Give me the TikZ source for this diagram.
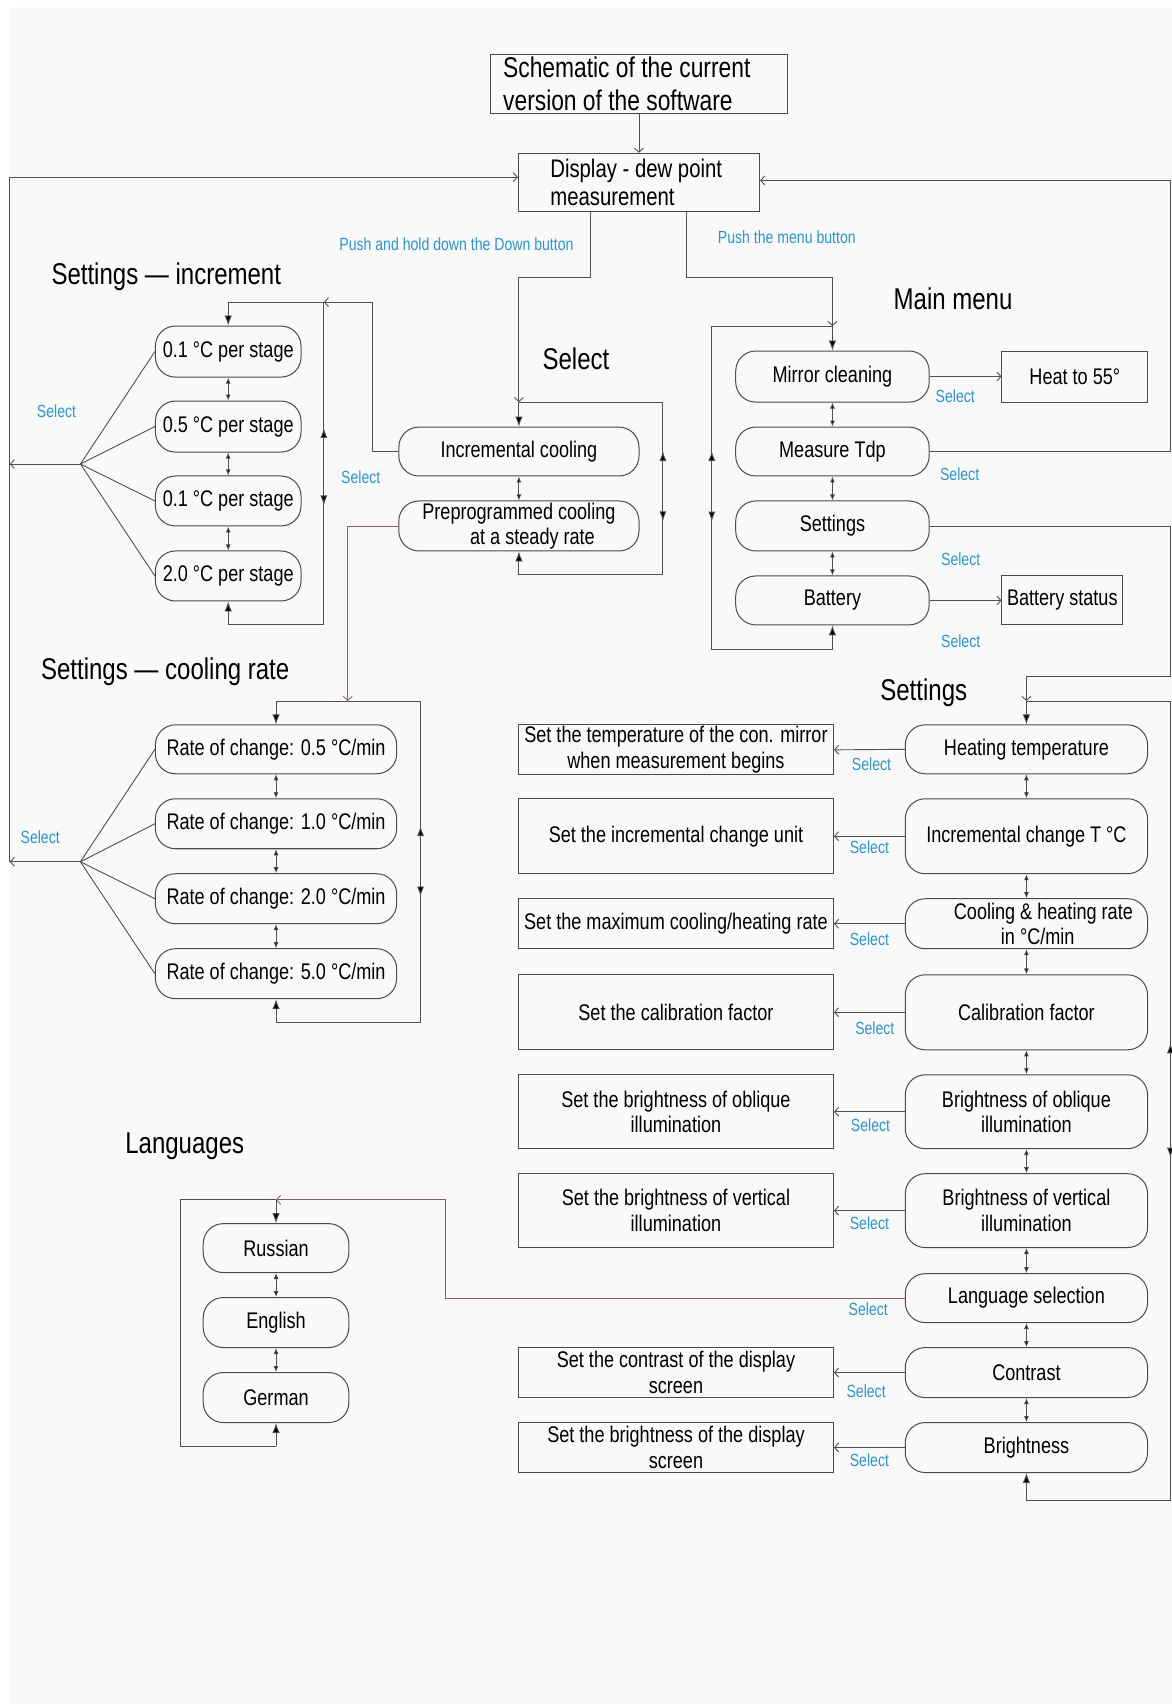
\documentclass[tikz,border=0pt]{standalone}
\usepackage{fontspec}
\setmainfont{Liberation Sans}[FakeStretch=0.8]
\usetikzlibrary{arrows.meta,calc}
\definecolor{bgc}{RGB}{249,249,249}
\definecolor{boxc}{RGB}{75,75,75}
\definecolor{linec}{RGB}{80,80,80}
\definecolor{redl}{RGB}{135,100,100}
\definecolor{bluel}{RGB}{45,150,200}
\newcommand\boxfnt{\fontsize{22.6}{25.5}\selectfont}
\newcommand\headfnt{\fontsize{30}{34}\selectfont}
\newcommand\titlefnt{\fontsize{28.5}{32.6}\selectfont}
\newcommand\dispfnt{\fontsize{25.4}{27.5}\selectfont}
\newcommand\bluefnt{\fontsize{17.6}{20}\selectfont}
\tikzset{
  bx/.style 2 args={minimum width=#1*1.0863pt, minimum height=#2*1.0863pt},
  rbox/.style={draw=boxc, line width=1pt, rounded corners=20pt, align=center, inner sep=0pt, font=\boxfnt},
  sbox/.style={draw=boxc, line width=1pt, align=center, inner sep=0pt, font=\boxfnt},
  conn/.style={draw=linec, line width=0.9pt},
  connr/.style={draw=redl, line width=0.9pt},
  oarr/.style={-{Straight Barb[length=4pt,width=9pt]}},
  farr/.style={-{Latex[length=10pt,width=7.5pt,fill=black]}},
  dbl/.style={{Latex[length=6pt,width=5pt,fill=black]}-{Latex[length=6pt,width=5pt,fill=black]}},
  dblL/.style={{Latex[length=10pt,width=7pt,fill=black]}-{Latex[length=10pt,width=7pt,fill=black]}},
  lbl/.style={font=\bluefnt, text=bluel, inner sep=0pt},
  head/.style={font=\headfnt, inner sep=0pt}
}
\begin{document}
\begin{tikzpicture}[x=1.0863pt,y=-1.0863pt]
\useasboundingbox (0,0) rectangle (1078,1568);
\fill[white] (0,0) rectangle (1078,1568);
\fill[bgc] (8,6) rectangle (1078,1568);

% ---------- top ----------
\node[sbox, font=\titlefnt, align=flush left, text width=250*1.0863pt, inner xsep=12*1.0863pt, minimum height=54*1.0863pt] (title) at (588,77) {Schematic of the current\\version of the software};
\node[sbox, font=\dispfnt, align=flush left, text width=200*1.0863pt, inner xsep=11*1.0863pt, minimum height=54*1.0863pt] (disp) at (588,168) {\hspace*{20pt}Display - dew point\\\hspace*{20pt}measurement};
\draw[conn,oarr] (title.south) -- (disp.north);

% ---------- headings ----------
\node[head] (hInc) at (153,255) {Settings — increment};
\node[head] (hSel) at (530,330) {Select};
\node[head] (hMain) at (877,275) {Main menu};
\node[head] (hCool) at (152,618) {Settings — cooling rate};
\node[head] (hSet) at (850,637) {Settings};
\node[head] (hLang) at (170,1055) {Languages};

% ---------- increment ----------
\node[rbox,bx={134}{47}] (i1) at (210,323.5) {0.1 °C per stage};
\node[rbox,bx={134}{47}] (i2) at (210,392.5) {0.5 °C per stage};
\node[rbox,bx={134}{46}] (i3) at (210,461) {0.1 °C per stage};
\node[rbox,bx={134}{46}] (i4) at (210,530) {2.0 °C per stage};
\draw[conn,dbl] (i1.south) -- (i2.north);
\draw[conn,dbl] (i2.south) -- (i3.north);
\draw[conn,dbl] (i3.south) -- (i4.north);

% ---------- select ----------
\node[rbox,bx={221}{45}] (s1) at (477.5,415.5) {Incremental cooling};
\node[rbox,bx={221}{46}] (s2) at (477.5,484) {Preprogrammed cooling\\\hspace*{1.2em}at a steady rate};
\draw[conn,dbl] (s1.south) -- (s2.north);

% ---------- cooling rate ----------
\node[rbox,bx={222}{45}] (r1) at (254,689.5) {Rate of change: 0.5 °C/min};
\node[rbox,bx={222}{46}] (r2) at (254,758) {Rate of change: 1.0 °C/min};
\node[rbox,bx={222}{46}] (r3) at (254,827) {Rate of change: 2.0 °C/min};
\node[rbox,bx={222}{46}] (r4) at (254,896) {Rate of change: 5.0 °C/min};
\draw[conn,dbl] (r1.south) -- (r2.north);
\draw[conn,dbl] (r2.south) -- (r3.north);
\draw[conn,dbl] (r3.south) -- (r4.north);

% ---------- main menu ----------
\node[rbox,bx={178}{47}] (m1) at (766,346.5) {Mirror cleaning};
\node[rbox,bx={178}{45}] (m2) at (766,415.5) {Measure Tdp};
\node[rbox,bx={178}{46}] (m3) at (766,484) {Settings};
\node[rbox,bx={178}{45}] (m4) at (766,552.5) {Battery};
\draw[conn,dbl] (m1.south) -- (m2.north);
\draw[conn,dbl] (m2.south) -- (m3.north);
\draw[conn,dbl] (m3.south) -- (m4.north);
\node[sbox,bx={134}{47}] (heat) at (989,346.5) {Heat to 55°};
\node[sbox,bx={111}{45}] (bstat) at (977.5,552.5) {Battery status};
\draw[conn,oarr] (m1.east) -- (heat.west);
\draw[conn,oarr] (m4.east) -- (bstat.west);

% ---------- settings ----------
\node[rbox,bx={223}{45}] (h1) at (944.5,689.5) {Heating temperature};
\node[rbox,bx={223}{69}] (h2) at (944.5,769.5) {Incremental change T °C};
\node[rbox,bx={223}{46}] (h3) at (944.5,850) {\hspace*{1.5em}Cooling \& heating rate\\\hspace*{1em}in °C/min};
\node[rbox,bx={223}{69}] (h4) at (944.5,931.5) {Calibration factor};
\node[rbox,bx={223}{68}] (h5) at (944.5,1023) {Brightness of oblique\\illumination};
\node[rbox,bx={223}{68}] (h6) at (944.5,1114) {Brightness of vertical\\illumination};
\node[rbox,bx={223}{45}] (h7) at (944.5,1194.5) {Language selection};
\node[rbox,bx={223}{46}] (h8) at (944.5,1263) {Contrast};
\node[rbox,bx={223}{46}] (h9) at (944.5,1332) {Brightness};
\foreach \a/\b in {h1/h2,h2/h3,h3/h4,h4/h5,h5/h6,h6/h7,h7/h8,h8/h9}
  \draw[conn,dbl] (\a.south) -- (\b.north);

\node[sbox,bx={290}{46}] (t1) at (622,690) {Set the temperature of the con. mirror\\when measurement begins};
\node[sbox,bx={290}{69}] (t2) at (622,769.5) {Set the incremental change unit};
\node[sbox,bx={290}{46}] (t3) at (622,850) {Set the maximum cooling/heating rate};
\node[sbox,bx={290}{69}] (t4) at (622,931.5) {Set the calibration factor};
\node[sbox,bx={290}{68}] (t5) at (622,1023) {Set the brightness of oblique\\illumination};
\node[sbox,bx={290}{68}] (t6) at (622,1114) {Set the brightness of vertical\\illumination};
\node[sbox,bx={290}{46}] (t7) at (622,1263) {Set the contrast of the display\\screen};
\node[sbox,bx={290}{46}] (t8) at (622,1332) {Set the brightness of the display\\screen};
\foreach \a/\b in {h1/t1,h2/t2,h3/t3,h4/t4,h5/t5,h6/t6,h8/t7,h9/t8}
  \draw[conn,oarr] (\a.west) -- (\b.east);

% ---------- languages ----------
\node[rbox,bx={134}{45}] (ru) at (254,1148.5) {Russian};
\node[rbox,bx={134}{46}] (en) at (254,1217) {English};
\node[rbox,bx={134}{46}] (ge) at (254,1286) {German};
\draw[conn,dbl] (ru.south) -- (en.north);
\draw[conn,dbl] (en.south) -- (ge.north);

% ---------- coordinates ----------
\coordinate (L1) at (9,163);
\coordinate (L2) at (9,793);
\coordinate (hubI) at (74,427);
\coordinate (hubC) at (74,793);
\coordinate (R1) at (1077,166);
\coordinate (a1) at (543,255);
\coordinate (a2) at (477.5,255);
\coordinate (a3) at (477.5,370);
\coordinate (a4) at (610,370);
\coordinate (a5) at (610,529);
\coordinate (a6) at (477.5,529);
\coordinate (b1) at (632,255);
\coordinate (b2) at (766,255);
\coordinate (b3) at (766,300);
\coordinate (b4) at (655,300);
\coordinate (b5) at (655,598);
\coordinate (b6) at (766,598);
\coordinate (c1) at (343,278);
\coordinate (c2) at (298,278);
\coordinate (d1) at (210,278);
\coordinate (d2) at (298,575);
\coordinate (d3) at (210,575);
\coordinate (e0) at (254,645);
\coordinate (e1) at (320,645);
\coordinate (e2) at (387,645);
\coordinate (e3) at (387,941);
\coordinate (e4) at (254,941);
\coordinate (f2) at (1077,622);
\coordinate (f3) at (944.5,622);
\coordinate (f4) at (944.5,645);
\coordinate (g1) at (1077,645);
\coordinate (g2) at (1077,1381);
\coordinate (g3) at (944.5,1381);
\coordinate (k1) at (410,1104);
\coordinate (k2) at (254,1104);
\coordinate (k3) at (166,1104);
\coordinate (k4) at (166,1331);
\coordinate (k5) at (254,1331);

% ---------- left return ----------
\draw[conn,oarr] (L2) -- (L1) -- (L1 -| disp.west);
\draw[conn,oarr] (hubI) -- (hubI -| L1);
\draw[conn,oarr] (hubC) -- (L2);
\foreach \n in {i1,i2,i3,i4} \draw[conn] (hubI) -- (\n.west);
\foreach \n in {r1,r2,r3,r4} \draw[conn] (hubC) -- (\n.west);

% ---------- right return ----------
\draw[conn,oarr] (m2.east) -- (m2.east -| R1) -- (R1) -- (R1 -| disp.east);

% ---------- display -> select ----------
\draw[conn,oarr] (a1 |- disp.south) -- (a1) -- (a2) -- (a3);
\draw[conn,farr] (a3) -- (s1.north);
\draw[conn] (a3) -- (a4) -- (a5) -- (a6);
\draw[conn,farr] (a6) -- (s2.south);
\draw[conn,dblL] ($(a4)!0.283!(a5)$) -- ($(a4)!0.69!(a5)$);

% ---------- display -> main menu ----------
\draw[conn,oarr] (b1 |- disp.south) -- (b1) -- (b2) -- (b3);
\draw[conn,farr] (b3) -- (m1.north);
\draw[conn] (b3) -- (b4) -- (b5) -- (b6);
\draw[conn,farr] (b6) -- (m4.south);
\draw[conn,dblL] ($(b4)!0.386!(b5)$) -- ($(b4)!0.604!(b5)$);

% ---------- incremental cooling -> increment ----------
\draw[conn,oarr] (s1.west) -| (c1) -- (c2);
\draw[conn] (c2) -- (d1);
\draw[conn,farr] (d1) -- (i1.north);
\draw[conn] (c2) -- (d2) -- (d3);
\draw[conn,farr] (d3) -- (i4.south);
\draw[conn,dblL] ($(c2)!0.39!(d2)$) -- ($(c2)!0.63!(d2)$);

% ---------- preprogrammed -> cooling rate ----------
\draw[connr,oarr] (s2.west) -| (e1);
\draw[conn] (e0) -- (e2) -- (e3) -- (e4);
\draw[conn,farr] (e0) -- (r1.north);
\draw[conn,farr] (e4) -- (r4.south);
\draw[conn,dblL] ($(e2)!0.389!(e3)$) -- ($(e2)!0.608!(e3)$);

% ---------- settings (main) -> settings ----------
\draw[conn] (m3.east) -- (m3.east -| f2) -- (f2) -- (f3);
\draw[conn,oarr] (f3) -- (f4);
\draw[conn,farr] (f4) -- (h1.north);
\draw[conn] (f4) -- (g1) -- (g2) -- (g3);
\draw[conn,farr] (g3) -- (h9.south);
\draw[conn,dblL] ($(g1)!0.428!(g2)$) -- ($(g1)!0.571!(g2)$);

% ---------- language selection -> languages ----------
\draw[connr,oarr] (h7.west) -| (k1) -- (k2);
\draw[conn] (k2) -- (k3) -- (k4) -- (k5);
\draw[conn,farr] (k2) -- (ru.north);
\draw[conn,farr] (k5) -- (ge.south);

% ---------- blue labels ----------
\node[lbl] (lp1) at (420,225) {Push and hold down the Down button};
\node[lbl] (lp2) at (724,218) {Push the menu button};
\node[lbl] (ls1) at (52,378) {Select};
\node[lbl] (ls2) at (332,439) {Select};
\node[lbl] (ls3) at (37,770) {Select};
\node[lbl] (ls4) at (879,365) {Select};
\node[lbl] (ls5) at (883,436) {Select};
\node[lbl] (ls6) at (884,515) {Select};
\node[lbl] (ls7) at (884,590) {Select};
\node[lbl] (ls8) at (802,703) {Select};
\node[lbl] (ls9) at (800,780) {Select};
\node[lbl] (ls10) at (800,864) {Select};
\node[lbl] (ls11) at (805,946) {Select};
\node[lbl] (ls12) at (801,1035) {Select};
\node[lbl] (ls13) at (800,1126) {Select};
\node[lbl] (ls14) at (799,1205) {Select};
\node[lbl] (ls15) at (797,1280) {Select};
\node[lbl] (ls16) at (800,1344) {Select};
\end{tikzpicture}
\end{document}
